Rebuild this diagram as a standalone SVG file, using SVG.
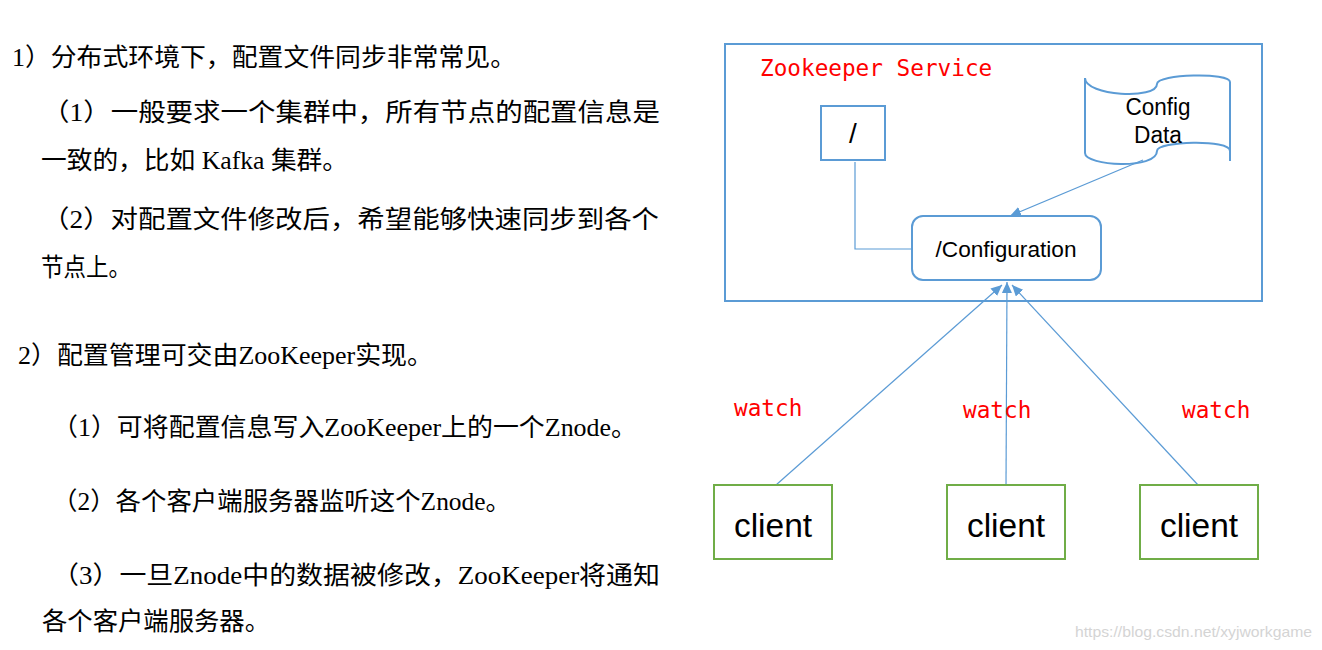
<svg xmlns="http://www.w3.org/2000/svg" width="1322" height="650" viewBox="0 0 1322 650">
<style>
.cn{font-family:"Liberation Serif","Noto Sans CJK SC",serif;font-size:25px;fill:#000}
.blue{fill:none;stroke:#5b9bd5;stroke-width:2}
.green{fill:#fff;stroke:#70ad47;stroke-width:2}
.mono{font-family:"DejaVu Sans Mono","Liberation Mono",monospace;font-size:22.7px;fill:#ff0000}
.sans{font-family:"Liberation Sans",Arial,sans-serif;fill:#000}
.conn{fill:none;stroke:#5b9bd5;stroke-width:1.2}
</style>
<defs>
<marker id="arr" markerUnits="userSpaceOnUse" markerWidth="14" markerHeight="12" refX="11" refY="5" orient="auto">
<path d="M0,0 L11,5 L0,10 Z" fill="#5b9bd5"/>
</marker>
</defs>
<rect width="1322" height="650" fill="#fff"/>
<g id="text-left">
<text class="cn" x="12" y="66" textLength="504" lengthAdjust="spacingAndGlyphs">1）分布式环境下，配置文件同步非常常见。</text>
<text class="cn" x="42" y="121" textLength="618" lengthAdjust="spacingAndGlyphs">（1）一般要求一个集群中，所有节点的配置信息是</text>
<text class="cn" x="41" y="169" textLength="307" lengthAdjust="spacingAndGlyphs">一致的，比如 Kafka 集群。</text>
<text class="cn" x="42" y="228" textLength="617" lengthAdjust="spacingAndGlyphs">（2）对配置文件修改后，希望能够快速同步到各个</text>
<text class="cn" x="41" y="276" textLength="90" lengthAdjust="spacingAndGlyphs">节点上。</text>
<text class="cn" x="18" y="364" textLength="415" lengthAdjust="spacingAndGlyphs">2）配置管理可交由ZooKeeper实现。</text>
<text class="cn" x="52" y="436" textLength="585" lengthAdjust="spacingAndGlyphs">（1）可将配置信息写入ZooKeeper上的一个Znode。</text>
<text class="cn" x="52" y="510" textLength="459" lengthAdjust="spacingAndGlyphs">（2）各个客户端服务器监听这个Znode。</text>
<text class="cn" x="52" y="584" textLength="608" lengthAdjust="spacingAndGlyphs">（3）一旦Znode中的数据被修改，ZooKeeper将通知</text>
<text class="cn" x="42" y="630" textLength="228" lengthAdjust="spacingAndGlyphs">各个客户端服务器。</text>
</g>
<g id="service">
<rect class="blue" x="725" y="44" width="537" height="257"/>
<text class="mono" x="760" y="76">Zookeeper Service</text>
</g>
<g id="connectors">
<path class="conn" d="M855,162 L855,249 L912,249"/>
<path class="conn" d="M1143,160 L1010,216" marker-end="url(#arr)"/>
<path class="conn" d="M776,485 L1002,285" marker-end="url(#arr)"/>
<path class="conn" d="M1006,485 L1007,282" marker-end="url(#arr)"/>
<path class="conn" d="M1198,485 L1012,285" marker-end="url(#arr)"/>
</g>
<g id="root">
<rect class="blue" x="821" y="106" width="64" height="54"/>
<text class="sans" x="853" y="143" font-size="28" text-anchor="middle">/</text>
</g>
<g id="config-data">
<path class="blue" d="M1085,78 C1085,96 1157,100 1157,84 C1157,74 1230,72 1230,82 M1085,78 L1085,153 C1085,166 1157,170 1157,151 C1157,141 1230,139 1230,151 M1230,82 L1230,161"/>
<text class="sans" x="1158" y="115" font-size="23" text-anchor="middle" textLength="65" lengthAdjust="spacingAndGlyphs">Config</text>
<text class="sans" x="1158" y="143" font-size="23" text-anchor="middle" textLength="48" lengthAdjust="spacingAndGlyphs">Data</text>
</g>
<g id="configuration">
<rect class="blue" x="912" y="216" width="189" height="64" rx="11" fill="#fff"/>
<text class="sans" x="1006" y="257" font-size="22" text-anchor="middle" textLength="141" lengthAdjust="spacingAndGlyphs">/Configuration</text>
</g>
<g id="labels">
<text class="mono" x="734" y="416">watch</text>
<text class="mono" x="963" y="418">watch</text>
<text class="mono" x="1182" y="418">watch</text>
</g>
<g id="client1">
<rect class="green" x="714" y="485" width="118" height="74"/>
<text class="sans" x="773" y="537" font-size="33.5" text-anchor="middle">client</text>
</g>
<g id="client2">
<rect class="green" x="947" y="485" width="118" height="74"/>
<text class="sans" x="1006" y="537" font-size="33.5" text-anchor="middle">client</text>
</g>
<g id="client3">
<rect class="green" x="1140" y="485" width="118" height="74"/>
<text class="sans" x="1199" y="537" font-size="33.5" text-anchor="middle">client</text>
</g>
<text x="1075" y="637" font-family="Liberation Sans,Arial,sans-serif" font-size="14.5" fill="#d4d4d4" textLength="237" lengthAdjust="spacingAndGlyphs">https://blog.csdn.net/xyjworkgame</text>
</svg>
